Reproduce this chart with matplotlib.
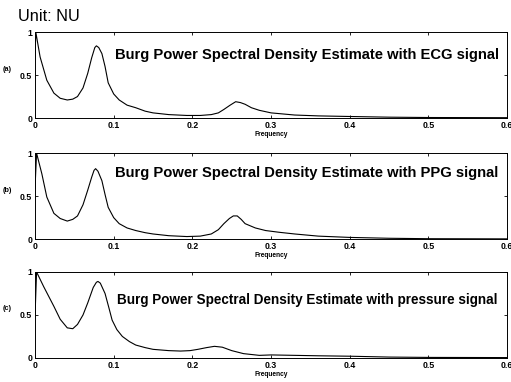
import numpy as np
import matplotlib.pyplot as plt

plt.rcParams['font.family'] = ['Liberation Sans', 'DejaVu Sans']

# Burg PSD curves (normalised units)
freq_ecg = [0.0, 0.001, 0.0065, 0.015, 0.024, 0.032, 0.041, 0.048, 0.054, 0.061, 0.067, 0.072,
            0.076, 0.078, 0.081, 0.085, 0.089, 0.093, 0.1, 0.107, 0.117, 0.128, 0.14, 0.15, 0.17,
            0.193, 0.21, 0.224, 0.233, 0.24, 0.248, 0.255, 0.261, 0.267, 0.275, 0.285, 0.3,
            0.33, 0.36, 0.4, 0.45, 0.5, 0.55, 0.6]
psd_ecg = [0.68, 1.0, 0.71, 0.44, 0.29, 0.23, 0.21, 0.22, 0.25, 0.35, 0.52, 0.7,
           0.82, 0.84, 0.82, 0.75, 0.6, 0.41, 0.28, 0.21, 0.15, 0.12, 0.08, 0.06, 0.04,
           0.03, 0.03, 0.04, 0.06, 0.1, 0.15, 0.19, 0.18, 0.16, 0.12, 0.09, 0.06,
           0.035, 0.025, 0.018, 0.01, 0.006, 0.005, 0.004]

freq_ppg = [0.0, 0.002, 0.0087, 0.015, 0.024, 0.032, 0.041, 0.048, 0.054, 0.061, 0.067, 0.072,
            0.075, 0.077, 0.08, 0.085, 0.089, 0.093, 0.1, 0.107, 0.117, 0.128, 0.14, 0.15, 0.17,
            0.193, 0.21, 0.224, 0.233, 0.24, 0.247, 0.252, 0.257, 0.262, 0.267, 0.28, 0.293,
            0.31, 0.33, 0.36, 0.4, 0.45, 0.5, 0.55, 0.6]
psd_ppg = [0.59, 1.0, 0.76, 0.49, 0.3, 0.24, 0.21, 0.23, 0.27, 0.4, 0.57, 0.72,
           0.8, 0.82, 0.79, 0.68, 0.52, 0.37, 0.25, 0.18, 0.13, 0.1, 0.075, 0.06, 0.04,
           0.03, 0.035, 0.06, 0.11, 0.18, 0.24, 0.27, 0.27, 0.23, 0.18, 0.13, 0.1,
           0.08, 0.06, 0.035, 0.02, 0.01, 0.005, 0.004, 0.003]

freq_prs = [0.0, 0.002, 0.011, 0.024, 0.032, 0.041, 0.048, 0.054, 0.061, 0.067, 0.074, 0.078,
            0.08, 0.083, 0.089, 0.094, 0.098, 0.104, 0.111, 0.12, 0.128, 0.14, 0.15, 0.17,
            0.185, 0.197, 0.207, 0.218, 0.228, 0.238, 0.25, 0.265, 0.285, 0.3, 0.33, 0.36,
            0.4, 0.45, 0.5, 0.55, 0.6]
psd_prs = [0.48, 1.0, 0.83, 0.6, 0.45, 0.35, 0.34, 0.39, 0.5, 0.64, 0.82, 0.88,
           0.89, 0.87, 0.75, 0.58, 0.44, 0.33, 0.25, 0.19, 0.15, 0.12, 0.1, 0.085,
           0.08, 0.085, 0.1, 0.12, 0.135, 0.125, 0.085, 0.05, 0.03, 0.035, 0.03, 0.025,
           0.02, 0.01, 0.006, 0.005, 0.004]

panel_tags = ['(a)', '(b)', '(c)']
titles = ['Burg Power Spectral Density Estimate with ECG signal',
          'Burg Power Spectral Density Estimate with PPG signal',
          'Burg Power Spectral Density Estimate with pressure signal']
xticks = [0, 0.1, 0.2, 0.3, 0.4, 0.5, 0.6]
xtick_labels = ['0', '0.1', '0.2', '0.3', '0.4', '0.5', '0.6']
yticks = [0, 0.5, 1]
ytick_labels = ['0', '0.5', '1']

series = [(freq_ecg, psd_ecg), (freq_ppg, psd_ppg), (freq_prs, psd_prs)]
bottoms = [0.691, 0.374, 0.063]
title_y = [0.73, 0.77, 0.67]
title_x = [0.17, 0.17, 0.174]
title_size = [10.6, 10.6, 9.75]

fig = plt.figure(figsize=(5.11, 3.82), dpi=100)
fig.text(0.035, 0.958, 'Unit: NU', fontsize=11.8, va='center', ha='left')

for i, (f, p) in enumerate(series):
    ax = fig.add_axes([0.0685, bottoms[i], 0.924, 0.225])
    ax.plot(f, p, color='black', lw=0.8)
    ax.set_xlim(0, 0.6)
    ax.set_ylim(0, 1)
    ax.set_xticks(xticks)
    ax.set_xticklabels(xtick_labels, fontsize=6.3, fontweight='bold')
    ax.set_yticks(yticks)
    ax.set_yticklabels(ytick_labels, fontsize=6.3, fontweight='bold')
    ax.tick_params(direction='in', length=2.5, width=0.6, pad=2, top=True, right=True)
    for s in ax.spines.values():
        s.set_linewidth(0.7)
    ax.set_xlabel('Frequency', fontsize=4.8, fontweight='bold', labelpad=1)
    ax.text(-0.068, 0.57, panel_tags[i], transform=ax.transAxes, fontsize=5.2,
            fontweight='bold', ha='left', va='center')
    ax.text(title_x[i], title_y[i], titles[i], transform=ax.transAxes, fontsize=title_size[i],
            fontweight='bold', ha='left', va='center')

fig.savefig('out.png', dpi=100)
